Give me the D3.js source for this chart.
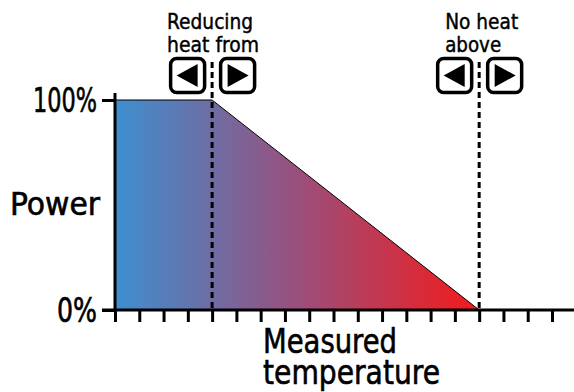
<!DOCTYPE html>
<html>
<head>
<meta charset="utf-8">
<script src="https://cdn.jsdelivr.net/npm/d3@7"></script>
<style>
  body { margin: 0; background: #fff; }
  text { font-family: "DejaVu Sans Condensed", "DejaVu Sans", sans-serif; fill: #000; }
  .heavy { stroke: #000; stroke-width: 0.6px; }
</style>
</head>
<body>
<script>
var width = 574, height = 392;

// data
var tempTicks = d3.range(0, 19);           // tick marks on the temperature axis
var curveTemp = [0, 4, 15];                 // knee points of the power curve
var curvePower = [100, 100, 0];
var markerTemp = [4, 15];                   // "reducing heat from" / "no heat above"
var markerLabels = [["Reducing", "heat from"], ["No heat", "above"]];
var powerTicks = [0, 100];
var powerLabels = ["0%", "100%"];

var x = d3.scaleLinear().domain([0, 18]).range([115, 552]);
var y = d3.scaleLinear().domain([0, 100]).range([310, 100]);

var svg = d3.select("body").append("svg")
    .attr("width", width)
    .attr("height", height);

var defs = svg.append("defs");
var grad = defs.append("linearGradient")
    .attr("id", "heat")
    .attr("gradientUnits", "userSpaceOnUse")
    .attr("x1", x(0)).attr("x2", x(15))
    .attr("y1", 0).attr("y2", 0);
grad.append("stop").attr("offset", "0%").attr("stop-color", "#3d8fd0");
grad.append("stop").attr("offset", "50%").attr("stop-color", "#9a4f7c");
grad.append("stop").attr("offset", "100%").attr("stop-color", "#f41a1a");

var pts = curveTemp.map(function(d, i) { return [d, curvePower[i]]; });

// filled area under the curve
var area = d3.area()
    .x(function(d) { return x(d[0]); })
    .y0(y(0))
    .y1(function(d) { return y(d[1]); });

svg.append("path")
    .datum(pts)
    .attr("d", area)
    .attr("fill", "url(#heat)");

var line = d3.line()
    .x(function(d) { return x(d[0]); })
    .y(function(d) { return y(d[1]); });

svg.append("path")
    .datum(pts)
    .attr("d", line)
    .attr("fill", "none")
    .attr("stroke", "#000")
    .attr("stroke-width", 1);

// dashed marker lines
svg.selectAll(".marker")
    .data(markerTemp)
    .enter().append("line")
    .attr("class", "marker")
    .attr("x1", function(d) { return x(d); })
    .attr("x2", function(d) { return x(d); })
    .attr("y1", 62)
    .attr("y2", y(0))
    .attr("stroke", "#000")
    .attr("stroke-width", 3)
    .attr("stroke-dasharray", "6,4");

// x axis ticks
var xAxis = svg.append("g")
    .attr("transform", "translate(0," + y(0) + ")")
    .call(d3.axisBottom(x).tickValues(tempTicks).tickSize(12).tickSizeOuter(0).tickFormat(""));
xAxis.select(".domain").remove();
xAxis.selectAll("line").attr("stroke", "#000").attr("stroke-width", 3);

svg.append("line")
    .attr("x1", x(0) - 13).attr("x2", width)
    .attr("y1", y(0)).attr("y2", y(0))
    .attr("stroke", "#000").attr("stroke-width", 3);

// y axis
var yAxis = svg.append("g")
    .attr("transform", "translate(" + x(0) + ",0)")
    .call(d3.axisLeft(y).tickValues(powerTicks).tickSize(13).tickSizeOuter(0)
        .tickFormat(function(d, i) { return powerLabels[i]; }));
yAxis.select(".domain").remove();
yAxis.selectAll("line").attr("stroke", "#000").attr("stroke-width", 3);
yAxis.selectAll("text")
    .attr("class", "heavy")
    .attr("x", -18)
    .attr("dy", "0.36em")
    .style("font-size", "33px")
    .style("font-family", "'DejaVu Sans Condensed', sans-serif")
    .attr("textLength", function(d, i) { return i ? 64 : 40; })
    .attr("lengthAdjust", "spacingAndGlyphs");

svg.append("line")
    .attr("x1", x(0)).attr("x2", x(0))
    .attr("y1", 93).attr("y2", y(0))
    .attr("stroke", "#000").attr("stroke-width", 3);

// axis titles
svg.append("text")
    .attr("class", "heavy")
    .attr("x", 10).attr("y", 215)
    .style("font-size", "32px")
    .attr("textLength", 90)
    .attr("lengthAdjust", "spacingAndGlyphs")
    .text("Power");

var xTitle = svg.append("text")
    .attr("class", "heavy")
    .style("font-size", "34px");
xTitle.append("tspan").attr("x", 263).attr("y", 353)
    .attr("textLength", 134).attr("lengthAdjust", "spacingAndGlyphs")
    .text("Measured");
xTitle.append("tspan").attr("x", 263).attr("y", 384)
    .attr("textLength", 177).attr("lengthAdjust", "spacingAndGlyphs")
    .text("temperature");

// marker labels and arrow buttons
var labelShift = [-45, -34];
var labelWidths = [[86, 92], [73, 56]];
var markers = svg.selectAll(".mk")
    .data(markerTemp)
    .enter().append("g")
    .attr("class", "mk")
    .attr("transform", function(d) { return "translate(" + x(d) + ",0)"; });

markers.append("text")
    .attr("class", "heavy")
    .style("font-size", "21px")
    .style("stroke-width", "0.4px")
    .each(function(d, m) {
        d3.select(this).selectAll("tspan")
            .data(markerLabels[m])
            .enter().append("tspan")
            .attr("x", labelShift[m])
            .attr("y", function(t, i) { return 29 + i * 23; })
            .attr("textLength", function(t, i) { return labelWidths[m][i]; })
            .attr("lengthAdjust", "spacingAndGlyphs")
            .text(function(t) { return t; });
    });

var buttonSides = [-1, 1];
markers.selectAll(".btn")
    .data(buttonSides)
    .enter().append("g")
    .attr("class", "btn")
    .each(function(s) {
        var g = d3.select(this);
        var bx = s < 0 ? -41.5 : 8.5;
        g.append("rect")
            .attr("x", bx).attr("y", 58.5)
            .attr("width", 34).attr("height", 34)
            .attr("rx", 6)
            .attr("fill", "#fff")
            .attr("stroke", "#000")
            .attr("stroke-width", 3.5);
        var cx = bx + 17;
        var tri = s < 0
            ? [[cx - 11, 75.5], [cx + 10, 64], [cx + 10, 87]]
            : [[cx + 11, 75.5], [cx - 10, 64], [cx - 10, 87]];
        g.append("path")
            .attr("d", "M" + tri.join("L") + "Z")
            .attr("fill", "#000");
    });
</script>
</body>
</html>
